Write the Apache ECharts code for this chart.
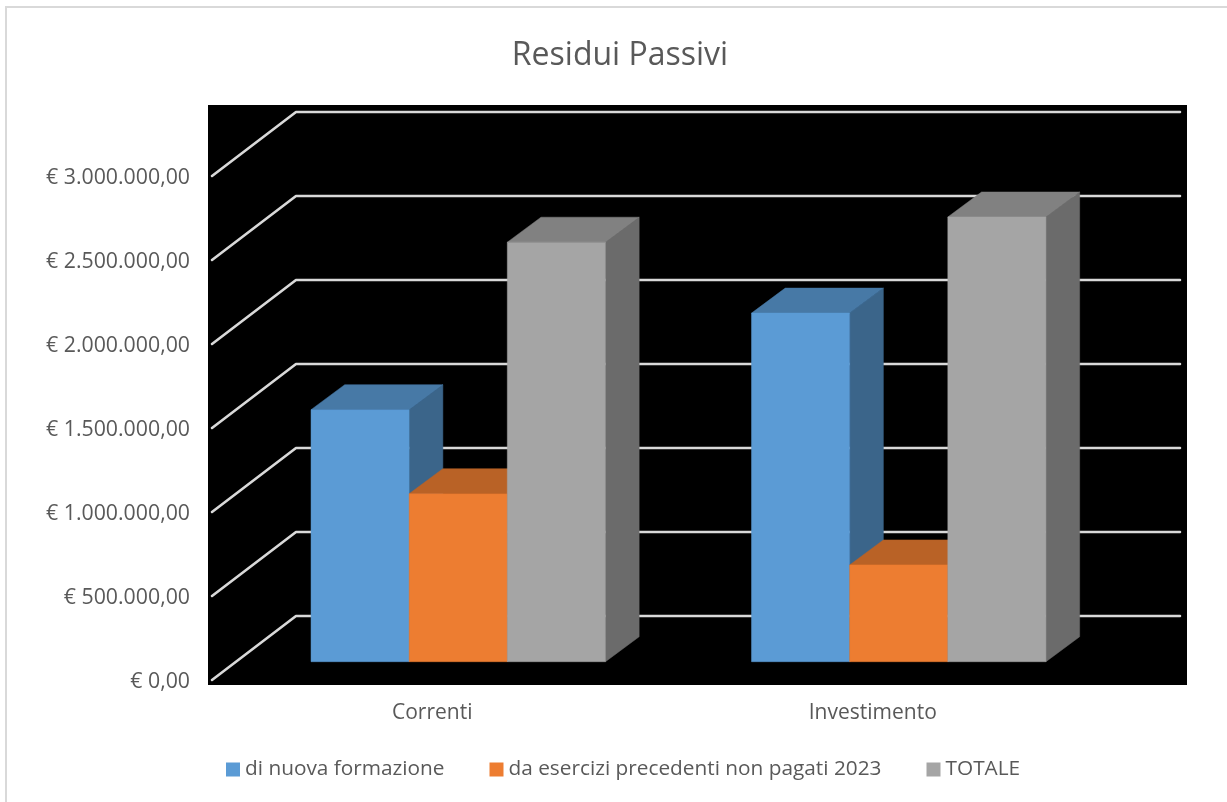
<!DOCTYPE html>
<html>
<head>
<meta charset="utf-8">
<style>html,body{margin:0;padding:0;background:#fff}#c{width:1227px;height:802px}</style>
<script src="https://cdn.jsdelivr.net/npm/echarts@6/dist/echarts.min.js"></script>
</head>
<body>
<div id="c"></div>
<script>
var titleText = 'Residui Passivi';
var categories = ['Correnti', 'Investimento'];
var seriesNames = ['di nuova formazione', 'da esercizi precedenti non pagati 2023', 'TOTALE'];
var nuovaFormazione = [1500000, 2075000];
var eserciziPrecedenti = [1000000, 576000];
var totale = [2497000, 2647000];
var tickValues = [0, 500000, 1000000, 1500000, 2000000, 2500000, 3000000];
var tickLabels = ['€ 0,00', '€ 500.000,00', '€ 1.000.000,00', '€ 1.500.000,00', '€ 2.000.000,00', '€ 2.500.000,00', '€ 3.000.000,00'];
var seriesValues = [nuovaFormazione, eserciziPrecedenti, totale];
var colors = ['#5b9bd5', '#ed7d31', '#a5a5a5'];
var FONT = 'Open Sans';

function shade(hex, f) {
  var n = parseInt(hex.slice(1), 16);
  return 'rgb(' + [(n >> 16) & 255, (n >> 8) & 255, n & 255].map(function (c) { return Math.round(c * f); }).join(',') + ')';
}

var wallDx = 84, wallDy = -64;
var frontDx = 26, frontDy = -18.3;
var depthDx = 33.7, depthDy = -25;

function gridRender(params, api) {
  var cs = params.coordSys;
  var y = api.coord([0, api.value(1)])[1];
  var left = cs.x, right = cs.x + cs.width;
  return {
    type: 'polyline',
    shape: { points: [[left, y], [left + wallDx, y + wallDy], [right + wallDx + 3, y + wallDy]] },
    style: { fill: null, stroke: '#d9d9d9', lineWidth: 2.6, lineCap: 'round', lineJoin: 'round' },
    silent: true
  };
}

function barRender(sIdx) {
  return function (params, api) {
    var c = api.value(0);
    var p0 = api.coord([c, 0]);
    var p1 = api.coord([c, api.value(1)]);
    var w = api.size([1, 0])[0] * 0.2228;
    var xl = p0[0] + frontDx + (sIdx - 1.5) * w;
    var xr = xl + w;
    var yb = p0[1] + frontDy;
    var yt = p1[1] + frontDy;
    var col = colors[sIdx];
    function poly(points, fill) {
      return { type: 'polygon', shape: { points: points }, style: { fill: fill, stroke: fill, lineWidth: 0.5 } };
    }
    return {
      type: 'group',
      children: [
        poly([[xr, yb], [xr + depthDx, yb + depthDy], [xr + depthDx, yt + depthDy], [xr, yt]], shade(col, 0.65)),
        poly([[xl, yt], [xl + depthDx, yt + depthDy], [xr + depthDx, yt + depthDy], [xr, yt]], shade(col, 0.78)),
        poly([[xl, yb], [xr, yb], [xr, yt], [xl, yt]], col)
      ]
    };
  };
}

var series = [{
  type: 'custom',
  name: 'griglia',
  z: 1,
  silent: true,
  renderItem: gridRender,
  encode: { x: 0, y: 1 },
  data: tickValues.map(function (v) { return [0, v]; })
}];
seriesNames.forEach(function (name, i) {
  series.push({
    type: 'custom',
    name: name,
    z: 2 + i,
    itemStyle: { color: colors[i] },
    renderItem: barRender(i),
    encode: { x: 0, y: 1 },
    data: seriesValues[i].map(function (v, c) { return [c, v]; })
  });
});

var chart = echarts.init(document.getElementById('c'), null, { renderer: 'canvas' });
chart.setOption({
  animation: false,
  backgroundColor: '#fff',
  textStyle: { fontFamily: FONT },
  title: {
    text: titleText, left: 615, top: 35, textAlign: 'center',
    textStyle: { fontFamily: FONT, fontSize: 32, fontWeight: 'normal', color: '#595959' }
  },
  legend: {
    data: seriesNames,
    left: 226, top: 759, padding: 0, itemWidth: 14, itemHeight: 14, itemGap: 45,
    icon: 'rect',
    textStyle: { fontFamily: FONT, fontSize: 20.8, color: '#595959' }
  },
  grid: { left: 212, width: 881, top: 176, height: 504, containLabel: false },
  xAxis: {
    type: 'category', data: categories,
    axisLine: { show: false }, axisTick: { show: false }, splitLine: { show: false },
    axisLabel: { fontFamily: FONT, fontSize: 21, color: '#595959', margin: 23 }
  },
  yAxis: {
    type: 'value', min: 0, max: 3000000, interval: 500000,
    axisLine: { show: false }, axisTick: { show: false }, splitLine: { show: false },
    axisLabel: {
      margin: 22,
      formatter: function (v) { return '{t|' + tickLabels[tickValues.indexOf(v)] + '}'; },
      rich: { t: { fontFamily: FONT, fontSize: 21.3, color: '#595959', padding: [4, 0, 0, 0] } }
    }
  },
  graphic: [
    { type: 'rect', z: -2, silent: true, shape: { x: 6, y: 7, width: 1240, height: 820 }, style: { fill: '#fff', stroke: '#d9d9d9', lineWidth: 2 } },
    { type: 'rect', z: -1, silent: true, shape: { x: 208, y: 105, width: 979, height: 580 }, style: { fill: '#000' } }
  ],
  series: series
});
</script>
</body>
</html>
